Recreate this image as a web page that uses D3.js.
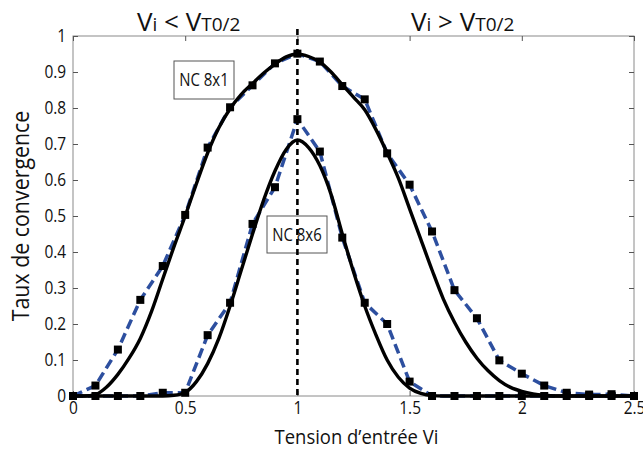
<!DOCTYPE html>
<html>
<head>
<meta charset="utf-8">
<script src="https://cdn.jsdelivr.net/npm/d3@7"></script>
<style>
  html, body { margin: 0; padding: 0; background: #fff; }
  svg { display: block; font-family: "Open Sans", "Noto Sans", sans-serif; }
</style>
</head>
<body>
<svg id="chart" width="643" height="450"></svg>
<script>
// ---- data ----
const xPoints = [0,0.1,0.2,0.3,0.4,0.5,0.6,0.7,0.8,0.9,1.0,1.1,1.2,1.3,1.4,1.5,1.6,1.7,1.8,1.9,2.0,2.1,2.2,2.3,2.4,2.5];
const nc8x1 = [0,0.029,0.129,0.267,0.361,0.503,0.69,0.802,0.863,0.924,0.951,0.929,0.861,0.824,0.674,0.587,0.457,0.294,0.216,0.099,0.062,0.029,0.009,0.004,0.005,0];
const nc8x6 = [0,0,0,0,0.009,0.009,0.169,0.259,0.478,0.58,0.769,0.679,0.44,0.259,0.2,0.04,0,0,0,0,0,0,0,0,0,0];

const fitX1 = [0,0.05,0.1,0.15,0.2,0.25,0.3,0.35,0.4,0.45,0.5,0.55,0.6,0.65,0.7,0.75,0.8,0.85,0.9,0.95,1.0,1.05,1.1,1.15,1.2,1.25,1.3,1.35,1.4,1.45,1.5,1.55,1.6,1.65,1.7,1.75,1.8,1.85,1.9,1.95,2.0,2.05,2.1,2.15,2.2,2.5];
const fitY1 = [0,0,0.004,0.025,0.06,0.105,0.16,0.235,0.325,0.415,0.5,0.59,0.675,0.745,0.798,0.838,0.868,0.897,0.922,0.942,0.95,0.943,0.928,0.9,0.865,0.83,0.795,0.74,0.675,0.605,0.52,0.435,0.35,0.27,0.205,0.15,0.105,0.07,0.043,0.024,0.013,0.006,0.002,0,0,0];

const fitX2 = [0,0.4,0.45,0.5,0.55,0.6,0.65,0.7,0.75,0.8,0.85,0.9,0.95,1.0,1.05,1.1,1.15,1.2,1.25,1.3,1.35,1.4,1.45,1.5,1.55,1.6,1.65,2.5];
const fitY2 = [0,0,0.002,0.01,0.04,0.09,0.16,0.25,0.35,0.45,0.545,0.625,0.685,0.711,0.69,0.64,0.56,0.45,0.345,0.25,0.17,0.1,0.052,0.022,0.007,0.001,0,0];

const xTicks = [0,0.5,1,1.5,2,2.5];
const xTickLabels = ["0","0.5","1","1.5","2","2.5"];
const yTicks = [0,0.1,0.2,0.3,0.4,0.5,0.6,0.7,0.8,0.9,1];
const yTickLabels = ["0","0.1","0.2","0.3","0.4","0.5","0.6","0.7","0.8","0.9","1"];
const seriesNames = ["NC 8x1","NC 8x6"];
const xTitle = "Tension d\u2019entrée Vi";
const yTitle = "Taux de convergence";
const dividerX = 1;

// ---- layout ----
const svg = d3.select("#chart");
const L = 73, R = 634, T = 36, B = 396;
const x = d3.scaleLinear().domain([0, 2.5]).range([L, R]);
const y = d3.scaleLinear().domain([0, 1]).range([B, T]);
const blue = "#2d4f9f";
const frameColor = "#8a8a8a";
const narrow = 0.86;

// frame
svg.append("rect").attr("x", L).attr("y", T).attr("width", R - L).attr("height", B - T)
  .attr("fill", "none").attr("stroke", frameColor).attr("stroke-width", 1);

function styleAxis(g) {
  g.select(".domain").remove();
  g.selectAll(".tick line").attr("stroke", "#555").attr("stroke-width", 1);
  g.selectAll("text").attr("font-size", 18).attr("fill", "#111").attr("font-family", "Open Sans")
    .attr("transform", `scale(${narrow},1)`);
}

// bottom
svg.append("g").attr("transform", `translate(0,${B})`)
  .call(d3.axisBottom(x).tickValues(xTicks).tickFormat((d, i) => xTickLabels[i]).tickSizeInner(-5).tickSizeOuter(0))
  .call(styleAxis)
  .call(g => g.selectAll("text").attr("y", 18).attr("dy", 0));
// top
svg.append("g").attr("transform", `translate(0,${T})`)
  .call(d3.axisTop(x).tickValues(xTicks).tickFormat("").tickSizeInner(-5).tickSizeOuter(0))
  .call(styleAxis);
// left
svg.append("g").attr("transform", `translate(${L},0)`)
  .call(d3.axisLeft(y).tickValues(yTicks).tickFormat((d, i) => yTickLabels[i]).tickSizeInner(-5).tickSizeOuter(0).tickPadding(8))
  .call(styleAxis);
// right
svg.append("g").attr("transform", `translate(${R},0)`)
  .call(d3.axisRight(y).tickValues(yTicks).tickFormat("").tickSizeInner(-5).tickSizeOuter(0))
  .call(styleAxis);

// titles
svg.append("text").attr("transform", `translate(${(L + R) / 2 + 3},444) scale(0.9,1)`).attr("text-anchor", "middle")
  .attr("font-size", 20.5).attr("fill", "#111").text(xTitle);
svg.append("text").attr("transform", `translate(29,${(T + B) / 2}) rotate(-90) scale(0.93,1)`).attr("text-anchor", "middle")
  .attr("font-size", 23).attr("fill", "#111").text(yTitle);

// region labels
function regionLabel(xp, sym) {
  const t = svg.append("text").attr("x", xp).attr("y", 31).attr("font-size", 26).attr("fill", "#111");
  t.append("tspan").text("V");
  t.append("tspan").attr("font-size", 19).text("i");
  t.append("tspan").text(" " + sym + " V");
  t.append("tspan").attr("font-size", 19).text("T0/2");
}
regionLabel(137, "<");
regionLabel(411, ">");

// lines
const lineData = d3.line().x(d => x(d[0])).y(d => y(d[1])).curve(d3.curveLinear);
const lineFit = d3.line().x(d => x(d[0])).y(d => y(d[1])).curve(d3.curveMonotoneX);

[nc8x1, nc8x6].forEach(vals => {
  svg.append("path").datum(xPoints.map((xv, i) => [xv, vals[i]]))
    .attr("d", lineData).attr("fill", "none").attr("stroke", blue)
    .attr("stroke-width", 3.5).attr("stroke-dasharray", "10,5");
});
[[fitX1, fitY1], [fitX2, fitY2]].forEach(([fx, fy]) => {
  svg.append("path").datum(fx.map((xv, i) => [xv, fy[i]]))
    .attr("d", lineFit).attr("fill", "none").attr("stroke", "#000")
    .attr("stroke-width", 3.4).attr("stroke-linejoin", "round");
});

// markers
const s = 8;
[nc8x1, nc8x6].forEach(vals => {
  svg.append("g").selectAll("rect").data(xPoints.map((xv, i) => [xv, vals[i]])).join("rect")
    .attr("x", d => x(d[0]) - s / 2).attr("y", d => y(d[1]) - s / 2)
    .attr("width", s).attr("height", s).attr("fill", "#000");
});

// label boxes
function labelBox(cx, cy, w, h, txt) {
  svg.append("rect").attr("x", cx - w / 2).attr("y", cy - h / 2).attr("width", w).attr("height", h)
    .attr("fill", "#fff").attr("stroke", "#555").attr("stroke-width", 1);
  svg.append("text").attr("transform", `translate(${cx},${cy}) scale(0.83,1)`).attr("dy", "0.36em").attr("text-anchor", "middle")
    .attr("font-size", 18).attr("fill", "#111").text(txt);
}
labelBox(204, 80, 60, 38, seriesNames[0]);
labelBox(297, 234.5, 60, 37, seriesNames[1]);

// divider
svg.append("line").attr("x1", x(dividerX)).attr("x2", x(dividerX)).attr("y1", 29).attr("y2", B)
  .attr("stroke", "#000").attr("stroke-width", 2.6).attr("stroke-dasharray", "6,4");
</script>
</body>
</html>
